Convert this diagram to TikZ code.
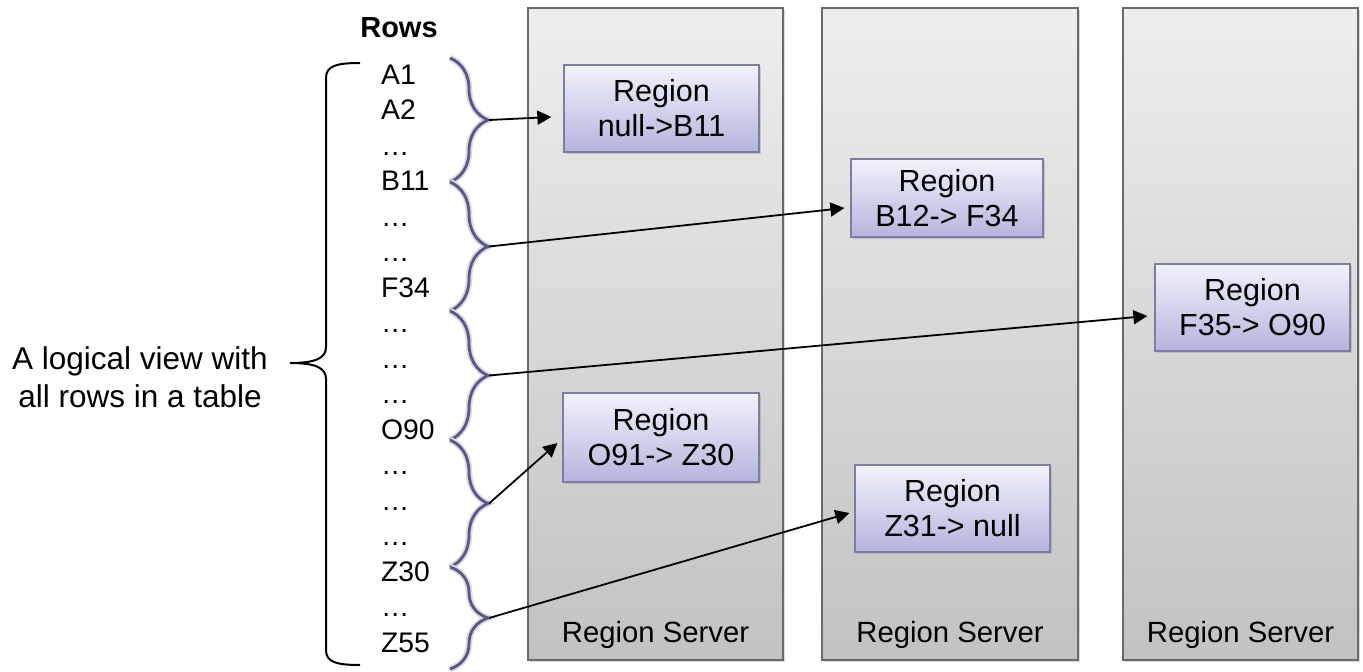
\documentclass[tikz,border=0pt]{standalone}
\usepackage{fontspec}
\setmainfont{Liberation Sans}
\usetikzlibrary{decorations.pathreplacing,shadows,arrows.meta,calc}
\definecolor{srvtop}{RGB}{238,238,238}
\definecolor{srvbot}{RGB}{194,194,194}
\definecolor{srvedge}{RGB}{105,105,105}
\definecolor{regtop}{RGB}{242,242,252}
\definecolor{regbot}{RGB}{180,180,222}
\definecolor{regedge}{RGB}{125,125,160}
\definecolor{bracecol}{RGB}{88,88,135}
\begin{document}
\begin{tikzpicture}[x=1pt,y=-1pt,
  server/.style={draw=srvedge, line width=1.5pt, top color=srvtop, bottom color=srvbot,
    minimum width=#1, minimum height=652pt, inner sep=0pt,
    drop shadow={shadow xshift=1.5pt, shadow yshift=-1.5pt, opacity=.3}},
  region/.style={draw=regedge, line width=1.2pt, top color=regtop, bottom color=regbot,
    minimum width=195pt, minimum height=87pt, inner sep=0pt, align=center,
    font=\fontsize{30.5}{35}\selectfont,
    drop shadow={shadow xshift=1.5pt, shadow yshift=-1.5pt, opacity=.3}},
  srvlabel/.style={anchor=base, font=\fontsize{29.3}{35}\selectfont, inner sep=0pt},
  rowtxt/.style={anchor=base west, font=\fontsize{28.3}{34}\selectfont, inner sep=0pt},
  rowbrace/.style={decorate, decoration={brace, amplitude=38pt}, line width=2.8pt, draw=bracecol},
  braceglow/.style={decorate, decoration={brace, amplitude=38pt}, line width=6.5pt, draw=bracecol!22},
  arr/.style={-{Triangle[length=14pt,width=14pt]}, line width=1.8pt, black}
]
\useasboundingbox (0,0) rectangle (1363,672);

% region servers
\node[server=255pt] (s1) at (655.5,334) {};
\node[server=256pt] (s2) at (950,334) {};
\node[server=235pt] (s3) at (1240.5,334) {};
\node[srvlabel] (l1) at ([yshift=18pt]s1.south) {Region Server};
\node[srvlabel] (l2) at ([yshift=18pt]s2.south) {Region Server};
\node[srvlabel] (l3) at ([yshift=18pt]s3.south) {Region Server};

% regions
\node[region] (r1) at (661.5,108.5) {Region\\null->B11};
\node[region, minimum width=192pt, minimum height=78pt] (r2) at (947,198) {Region\\B12-> F34};
\node[region] (r3) at (1252.5,307.5) {Region\\F35-> O90};
\node[region, minimum width=196pt, minimum height=89pt] (r4) at (661,437.5) {Region\\O91-> Z30};
\node[region] (r5) at (952.5,508.5) {Region\\Z31-> null};

% rows
\node[anchor=base, font=\bfseries\fontsize{29}{35}\selectfont, inner sep=0pt] (rowshead) at (399,37) {Rows};
\foreach \t [count=\i from 0] in {A1,A2,…,B11,…,…,F34,…,…,…,O90,…,…,…,Z30,…,Z55}
  \node[rowtxt] (row\i) at (381,{84+35.5*\i}) {\t};

% right braces
\foreach \a/\b [count=\k] in {58/182,182/311,311/440,440/567,567/669}{
  \draw[braceglow] (450,\a) -- (450,\b);
  \draw[rowbrace] (450,\a) -- (450,\b);
  \coordinate (bt\k) at (489,{(\a+\b)/2});
}

% left bracket
\coordinate (ltip) at (290,363);
\draw[line width=2pt, black] (360,63) .. controls (336,63) and (326,66) .. (326,78)
  -- (326,347) .. controls (326,358) and (316,363) .. (ltip)
  .. controls (316,363) and (326,368) .. (326,379)
  -- (326,650) .. controls (326,662) and (336,665) .. (360,665);
\node[align=center, font=\fontsize{31.5}{38}\selectfont, inner sep=0pt] (logic) at (140,377)
  {A logical view with\\all rows in a table};

% arrows
\draw[arr] (bt1) -- ([shift={(-12,8.5)}]r1.west);
\draw[arr] (bt2) -- ([shift={(-6,10)}]r2.west);
\draw[arr] (bt3) -- ([shift={(-7,8.5)}]r3.west);
\draw[arr] (bt4) -- ([shift={(-5,5.5)}]r4.west);
\draw[arr] (bt5) -- ([shift={(-5,4.5)}]r5.west);
\end{tikzpicture}
\end{document}
